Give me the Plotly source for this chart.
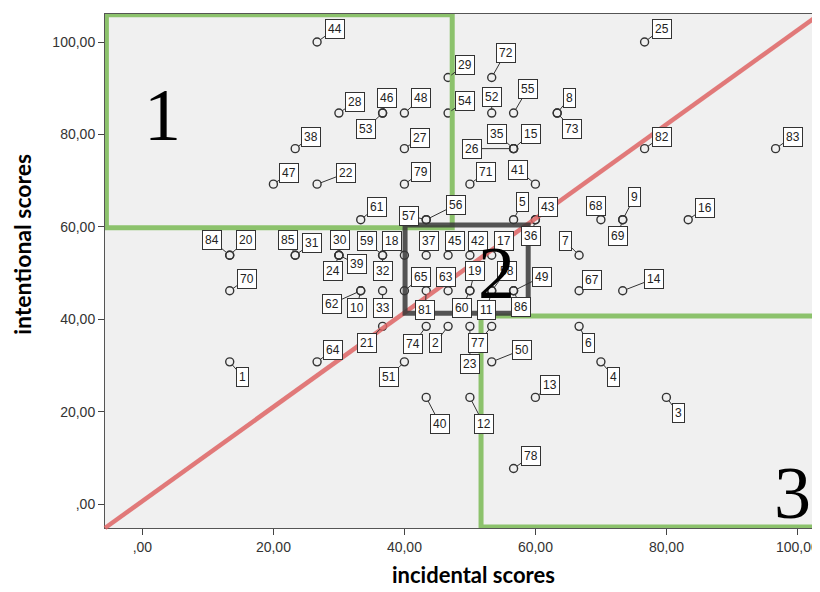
import plotly.graph_objects as go

# ---------------- data ----------------
point_ids = [44, 38, 47, 22, 28, 29, 72, 46, 53, 48, 54, 52, 55, 8, 73, 27, 35, 15, 26,
             79, 71, 41, 25, 82, 83, 61, 57, 56, 5, 43, 36, 68, 9, 69, 16,
             84, 20, 85, 31, 30, 24, 39, 59, 32, 18, 37, 45, 42, 17, 7,
             70, 62, 10, 33, 65, 81, 63, 19, 60, 58, 11, 49, 86, 67, 14,
             21, 74, 2, 23, 77, 6, 64, 1, 51, 50, 4, 40, 12, 13, 3, 78]

incidental_scores = [26.67, 23.33, 20.00, 26.67, 30.00, 46.67, 53.33, 36.67, 36.67, 40.00, 46.67, 53.33, 56.67, 63.33, 63.33, 40.00, 56.67, 56.67, 56.67,
                     40.00, 50.00, 60.00, 76.67, 76.67, 96.67, 33.33, 43.33, 43.33, 56.67, 60.00, 60.00, 70.00, 73.33, 73.33, 83.33,
                     13.33, 13.33, 23.33, 23.33, 30.00, 30.00, 30.00, 36.67, 36.67, 40.00, 43.33, 46.67, 50.00, 53.33, 66.67,
                     13.33, 33.33, 33.33, 36.67, 40.00, 43.33, 46.67, 50.00, 50.00, 53.33, 53.33, 56.67, 56.67, 66.67, 73.33,
                     36.67, 43.33, 46.67, 50.00, 53.33, 66.67, 26.67, 13.33, 40.00, 53.33, 70.00, 43.33, 50.00, 60.00, 80.00, 56.67]

intentional_scores = [100.00, 76.92, 69.23, 69.23, 84.62, 92.31, 92.31, 84.62, 84.62, 84.62, 84.62, 84.62, 84.62, 84.62, 84.62, 76.92, 76.92, 76.92, 76.92,
                      69.23, 69.23, 69.23, 100.00, 76.92, 76.92, 61.54, 61.54, 61.54, 61.54, 61.54, 61.54, 61.54, 61.54, 61.54, 61.54,
                      53.85, 53.85, 53.85, 53.85, 53.85, 53.85, 53.85, 53.85, 53.85, 53.85, 53.85, 53.85, 53.85, 53.85, 53.85,
                      46.15, 46.15, 46.15, 46.15, 46.15, 46.15, 46.15, 46.15, 46.15, 46.15, 46.15, 46.15, 46.15, 46.15, 46.15,
                      38.46, 38.46, 38.46, 38.46, 38.46, 38.46, 30.77, 30.77, 30.77, 30.77, 30.77, 23.08, 23.08, 23.08, 23.08, 7.69]

tick_values = [0, 20, 40, 60, 80, 100]
tick_labels = [",00", "20,00", "40,00", "60,00", "80,00", "100,00"]

# region boxes (data units)
region1 = dict(x0=-5.5, x1=47.3, y0=59.8, y1=105.9)
region2 = dict(x0=40.1, x1=58.9, y0=41.3, y1=60.4)
region3 = dict(x0=51.7, x1=103.3, y0=-5.0, y1=40.7)
region_names = ["1", "2", "3"]
region_name_pos = [(3.0, 84.2), (54.1, 50.0), (99.3, 2.4)]

# ---------------- label layout (pixel offsets of label boxes) ----------------
label_dx = [18, 16, 16, 29, 16, 17, 14, 4, -17, 17, 17, 0, 14, 12, 15, 16, -17, 17, -42,
            17, 16, -17, 17, 17, 17, 16, -17, 30, 9, 13, -4, -5, 12, -5, 17,
            -18, 16, -7, 17, 1, -6, 18, -16, 0, -12, 3, 7, 8, 12, -14,
            17, -29, -4, 0, 17, -1, -2, 5, -8, 15, -5, 28, 7, 13, 31,
            -16, -13, -13, 0, -14, 9, 16, 13, -15, 30, 13, 14, 14, 15, 12, 17]
label_dy = [-13, -12, -11, -11, -11, -13, -25, -15, 16, -15, -12, -16, -24, -15, 16, -11, -15, -15, 0,
            -12, -12, -14, -13, -12, -12, -13, -4, -15, -18, -13, 16, -14, -23, 16, -12,
            -15, -15, -15, -12, -15, 16, 9, -14, 16, -14, -14, -14, -14, -14, -14,
            -12, 13, 17, 17, -14, 19, -14, -20, 17, -20, 19, -14, 16, -11, -12,
            17, 18, 17, 38, 17, 17, -12, 15, 15, -12, 15, 27, 27, -12, 16, -12]

X_RANGE = [-5.71, 103.45]
Y_RANGE = [-5.19, 106.06]
GREEN = "#8cc26c"
DARK = "rgba(55,55,55,0.85)"
RED = "rgba(222,100,100,0.85)"

fig = go.Figure()

fig.add_trace(go.Scatter(
    x=incidental_scores, y=intentional_scores, mode="markers",
    marker=dict(symbol="circle-open", size=8, color="#333333", line=dict(width=1.4)),
    hoverinfo="skip", showlegend=False))

annotations = []
for pid, xv, yv, dx, dy in zip(point_ids, incidental_scores, intentional_scores, label_dx, label_dy):
    annotations.append(dict(
        x=xv, y=yv, xref="x", yref="y", text=str(pid), showarrow=True,
        ax=dx, ay=dy, arrowhead=0, arrowwidth=1, arrowcolor="#333333", standoff=4,
        font=dict(family="Liberation Sans, Arial", size=12, color="#222222"),
        bgcolor="white", bordercolor="#333333", borderwidth=1, borderpad=2))

for name, (xv, yv) in zip(region_names, region_name_pos):
    annotations.append(dict(x=xv, y=yv, xref="x", yref="y", text=name, showarrow=False,
                            xanchor="center", yanchor="middle",
                            font=dict(family="Liberation Serif, Times New Roman", size=74, color="black")))

annotations.append(dict(x=0.516, y=-0.091, xref="paper", yref="paper", text="<b>incidental scores</b>",
                        xanchor="center", yanchor="middle",
                        showarrow=False, font=dict(family="Lato, Open Sans", size=22, color="black")))
annotations.append(dict(x=-0.116, y=0.551, xref="paper", yref="paper", text="<b>intentional scores</b>",
                        xanchor="center", yanchor="middle",
                        textangle=-90, showarrow=False, font=dict(family="Lato, Open Sans", size=23, color="black")))

shapes = [
    dict(type="line", xref="paper", yref="paper", x0=0, y0=0, x1=1, y1=1,
         line=dict(color=RED, width=4.5), layer="above"),
    dict(type="rect", xref="x", yref="y", **region1, line=dict(color=GREEN, width=5), layer="above"),
    dict(type="rect", xref="x", yref="y", **region3, line=dict(color=GREEN, width=5), layer="above"),
    dict(type="rect", xref="x", yref="y", **region2, line=dict(color=DARK, width=5), layer="above"),
]

axis_font = dict(family="Liberation Sans, Arial", size=14, color="#333333")
# page body adds an 8px offset; figure sized so the plot area lands at x 105, y 14-528 on screen
fig.update_layout(
    width=812, height=576,
    margin=dict(l=97, r=0, t=6, b=56),
    paper_bgcolor="white", plot_bgcolor="#f0f0f0",
    shapes=shapes, annotations=annotations,
    xaxis=dict(range=X_RANGE, tickvals=tick_values, ticktext=tick_labels, showgrid=False, zeroline=False,
               showline=True, linecolor="#555555", linewidth=1, mirror=True,
               ticks="outside", ticklen=6, tickcolor="#444444", tickfont=axis_font),
    yaxis=dict(range=Y_RANGE, tickvals=tick_values, ticktext=tick_labels, showgrid=False, zeroline=False,
               showline=True, linecolor="#555555", linewidth=1, mirror=True,
               ticks="outside", ticklen=6, tickcolor="#444444", tickfont=axis_font),
)

fig.write_html("out.html")
